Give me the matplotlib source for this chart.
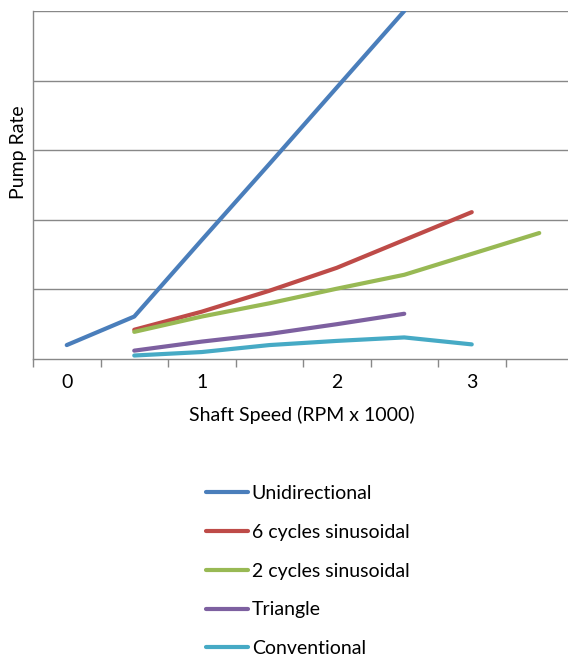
import numpy as np
import matplotlib.pyplot as plt
from matplotlib.ticker import FixedLocator

# data (pump rate in gridline units)
speeds = [0, 0.5, 1, 1.5, 2, 2.5, 3, 3.5]
series_names = ["Unidirectional", "6 cycles sinusoidal", "2 cycles sinusoidal",
                "Triangle", "Conventional"]
unidirectional = [0.20, 0.61, 1.71, 2.80, 3.90, 5.00, None, None]
sin6 = [None, 0.42, 0.68, 0.98, 1.31, 1.71, 2.11, None]
sin2 = [None, 0.39, 0.61, 0.80, 1.01, 1.21, 1.51, 1.81]
triangle = [None, 0.12, 0.25, 0.36, 0.50, 0.65, None, None]
conventional = [None, 0.05, 0.10, 0.20, 0.26, 0.31, 0.21, None]
x_labels = ["0", "1", "2", "3"]

colors = ["#4A7EBB", "#BE4B48", "#98B954", "#7D60A0", "#46AAC5"]
grid_color = "#888888"
font = "Lato"
fs = 14

plt.rcParams['font.family'] = [font, 'DejaVu Sans']

fig = plt.figure(figsize=(5.68, 6.57), dpi=100)
W, H = 568, 657
ax = fig.add_axes([33 / W, (H - 359) / H, 540 / W, 348 / H])

all_series = [unidirectional, sin6, sin2, triangle, conventional]
handles = []
for name, vals, c in zip(series_names, all_series, colors):
    xs = [s for s, v in zip(speeds, vals) if v is not None]
    ys = [v for v in vals if v is not None]
    h, = ax.plot(xs, ys, color=c, lw=3.0, solid_capstyle='round',
                 solid_joinstyle='round', label=name)
    handles.append(h)

ax.set_xlim(-0.25, 3.75)
ax.set_ylim(0, 5)

# category style axis: labels at 0,1,2,3; tick marks between categories
ax.xaxis.set_major_locator(FixedLocator([0, 1, 2, 3]))
ax.set_xticklabels(x_labels)
ax.xaxis.set_minor_locator(FixedLocator(np.arange(-0.25, 3.8, 0.5)))
ax.tick_params(axis='x', which='major', length=0, pad=11, labelsize=fs)
ax.tick_params(axis='x', which='minor', length=6, width=1, color=grid_color)

ax.set_yticks([1, 2, 3, 4, 5])
ax.set_yticklabels([])
ax.tick_params(axis='y', length=0)
ax.yaxis.grid(True, color=grid_color, lw=1)
ax.set_axisbelow(True)

for s in ['top', 'right']:
    ax.spines[s].set_visible(False)
for s in ['left', 'bottom']:
    ax.spines[s].set_color(grid_color)
    ax.spines[s].set_linewidth(1)

fig.text(302 / W, 1 - 415 / H, "Shaft Speed (RPM x 1000)", ha='center', va='center', fontsize=fs)
fig.text(19 / W, 1 - 152 / H, "Pump Rate", ha='center', va='center', rotation=90, fontsize=fs)

leg = fig.legend(handles=handles, loc='upper left', bbox_to_anchor=(206 / W, 1 - 485 / H),
                 frameon=False, fontsize=fs, handlelength=2.15, handletextpad=0.2,
                 labelspacing=1.12, borderpad=0, borderaxespad=0)

fig.savefig("out.png", dpi=100)
